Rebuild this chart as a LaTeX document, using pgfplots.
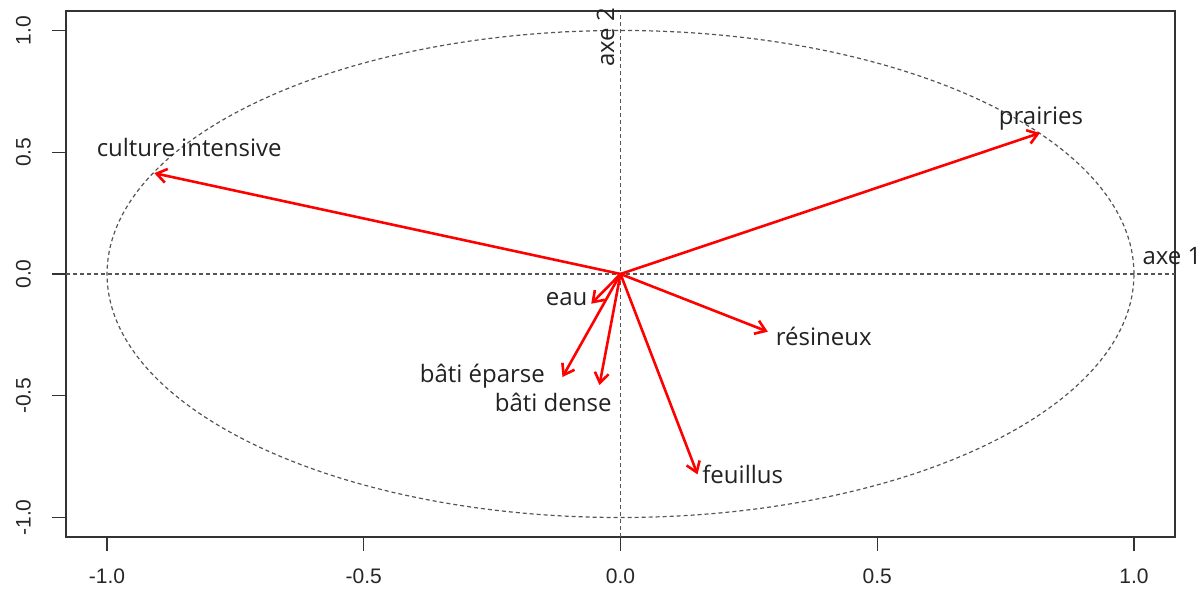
\documentclass[border=0pt]{standalone}
\usepackage{fontspec}
\setmainfont{Open Sans}
\newfontfamily\arialfont{Liberation Sans}
\usepackage{pgfplots}
\usepackage{pgfplotstable}
\pgfplotsset{compat=1.18}
\usetikzlibrary{arrows.meta}

\pgfplotstableread{
x0 y0 u v
0 0 -0.908 0.414
0 0 0.817 0.579
0 0 -0.057 -0.122
0 0 0.287 -0.237
0 0 -0.113 -0.423
0 0 -0.041 -0.456
0 0 0.150 -0.823
}\loadings

\definecolor{txtcol}{HTML}{222222}
\definecolor{dashcol}{HTML}{555555}

\begin{document}
\begin{tikzpicture}
\begin{axis}[
  scale only axis, width=554.5pt, height=263pt,
  xmin=-1.08, xmax=1.08, ymin=-1.08, ymax=1.08,
  axis line style={draw=black!80, line width=0.8pt},
  xtick={-1,-0.5,0,0.5,1}, xticklabels={-1.0,-0.5,0.0,0.5,1.0},
  ytick={-1,-0.5,0,0.5,1}, yticklabels={-1.0,-0.5,0.0,0.5,1.0},
  tick align=outside, major tick length=7pt, tick pos=left,
  tick style={black!80, line width=0.6pt},
  ticklabel style={font=\arialfont\fontsize{10.5}{12}\selectfont, text=black!85},
  yticklabel style={rotate=90, anchor=south},
  xticklabel shift=5.5pt, yticklabel shift=7pt,
  clip=false,
]
\draw[dashcol, line width=0.6pt, dash pattern=on 2pt off 1.5pt] (axis cs:-1.08,0) -- (axis cs:1.08,0);
\draw[dashcol, line width=0.6pt, dash pattern=on 2pt off 1.5pt] (axis cs:0,-1.08) -- (axis cs:0,1.08);
\draw[dashcol, line width=0.6pt, dash pattern=on 2pt off 1.5pt] (axis cs:0,0) ellipse [x radius=1, y radius=1];
\addplot[red, line width=1.3pt, quiver={u=\thisrow{u}, v=\thisrow{v},
   every arrow/.append style={-{Straight Barb[length=5pt,width=7pt]}}}]
   table[x=x0, y=y0] {\loadings};
\begin{scope}[every node/.style={font=\fontsize{12}{14}\selectfont, text=txtcol, inner sep=0pt}]
\node at (axis cs:-0.840,0.518) {culture intensive};
\node at (axis cs:0.819,0.637) {prairies};
\node at (axis cs:-0.105,-0.105) {eau};
\node at (axis cs:0.396,-0.258) {résineux};
\node at (axis cs:-0.269,-0.419) {bâti éparse};
\node at (axis cs:-0.131,-0.526) {bâti dense};
\node at (axis cs:0.238,-0.823) {feuillus};
\node at (axis cs:1.074,0.072) {axe 1};
\node[rotate=90] at (axis cs:-0.029,0.971) {axe 2};
\end{scope}
\coordinate (bl) at (rel axis cs:0,0);
\coordinate (tr) at (rel axis cs:1,1);
\end{axis}
\pgfresetboundingbox
\path[use as bounding box] ([shift={(-33pt,-29pt)}]bl) rectangle ([shift={(14pt,5.5pt)}]tr);
\end{tikzpicture}
\end{document}
